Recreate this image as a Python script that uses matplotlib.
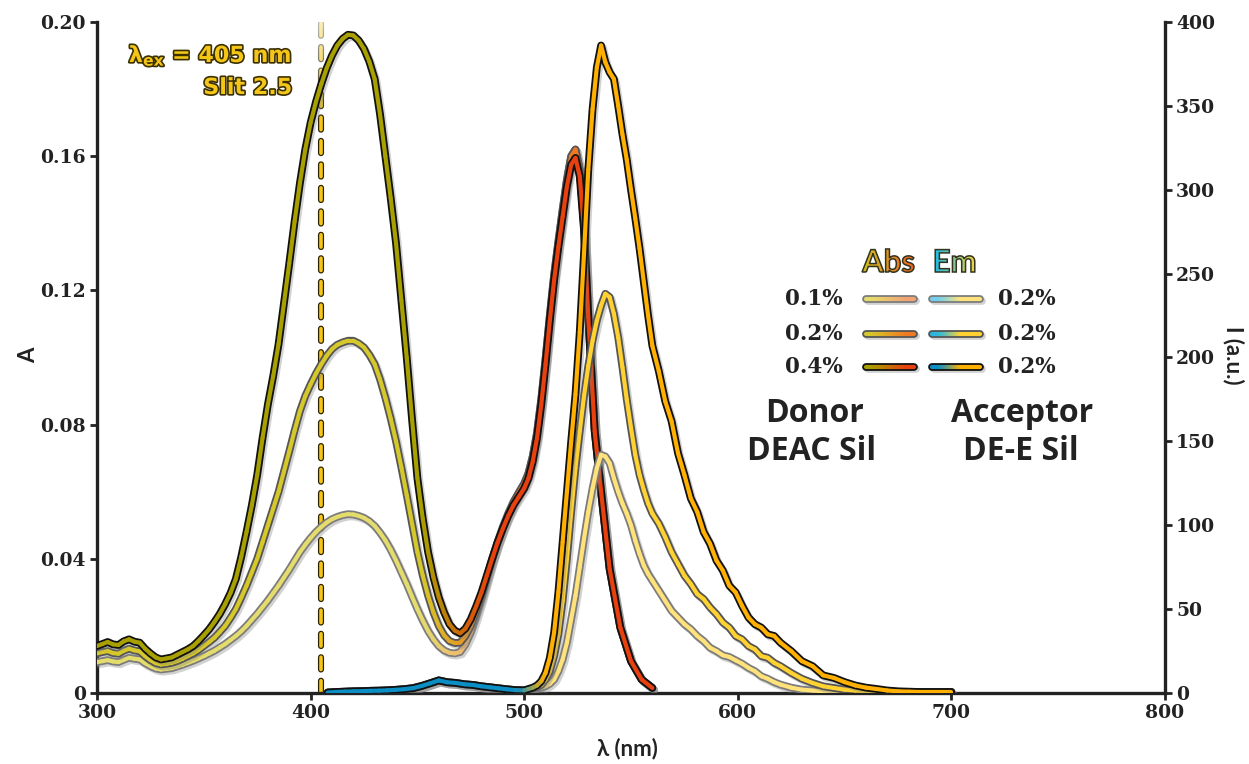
import numpy as np
import matplotlib
matplotlib.use("Agg")
import matplotlib.pyplot as plt
from matplotlib.collections import LineCollection
from matplotlib.colors import to_rgb
import matplotlib.patheffects as pe
from matplotlib.textpath import TextPath
from matplotlib.patches import PathPatch
from matplotlib.font_manager import FontProperties
from matplotlib.transforms import Affine2D

# ---------------------------------------------------------------- data
# absorbance spectra (left axis), donor loading 0.1 / 0.2 / 0.4 %
wl_abs = np.concatenate([np.arange(300, 500, 2.5), np.arange(500, 531, 2),
                         [533, 536, 540, 545, 550, 555, 560]])

abs_04 = [0.0140, 0.0146, 0.0152, 0.0145, 0.0143, 0.0154, 0.0160, 0.0153, 0.0150, 0.0132,
          0.0118, 0.0106, 0.0100, 0.0103, 0.0106, 0.0114, 0.0122, 0.0130, 0.0140, 0.0155,
          0.0172, 0.0190, 0.0212, 0.0236, 0.0265, 0.0298, 0.0340, 0.0405, 0.0480, 0.0560,
          0.0650, 0.0760, 0.0860, 0.0945, 0.1040, 0.1160, 0.1280, 0.1405, 0.1520, 0.1620,
          0.1700, 0.1762, 0.1815, 0.1862, 0.1900, 0.1930, 0.1950, 0.1962, 0.1960, 0.1945,
          0.1920, 0.1882, 0.1830, 0.1725, 0.1600, 0.1475, 0.1340, 0.1170, 0.1000, 0.0815,
          0.0640, 0.0520, 0.0420, 0.0345, 0.0285, 0.0240, 0.0205, 0.0186, 0.0178, 0.0192,
          0.0220, 0.0258, 0.0300, 0.0350, 0.0400, 0.0448, 0.0490, 0.0528, 0.0560, 0.0585,
          0.0610, 0.0640, 0.0690, 0.0760, 0.0860, 0.0980, 0.1110, 0.1230, 0.1330, 0.1420,
          0.1510, 0.1575, 0.1595, 0.1540, 0.1380, 0.1120,
          0.0780, 0.0600, 0.0370, 0.0195, 0.0095, 0.0040, 0.0015]

abs_02 = [0.0118, 0.0122, 0.0125, 0.0119, 0.0117, 0.0126, 0.0132, 0.0127, 0.0124, 0.0110,
          0.0098, 0.0089, 0.0085, 0.0087, 0.0090, 0.0095, 0.0102, 0.0110, 0.0118, 0.0128,
          0.0140, 0.0152, 0.0165, 0.0182, 0.0200, 0.0224, 0.0250, 0.0284, 0.0320, 0.0360,
          0.0400, 0.0450, 0.0500, 0.0550, 0.0600, 0.0660, 0.0720, 0.0782, 0.0840, 0.0885,
          0.0920, 0.0952, 0.0980, 0.1005, 0.1025, 0.1038, 0.1045, 0.1050, 0.1050, 0.1042,
          0.1030, 0.1008, 0.0980, 0.0935, 0.0880, 0.0818, 0.0750, 0.0672, 0.0590, 0.0505,
          0.0420, 0.0350, 0.0290, 0.0240, 0.0200, 0.0172, 0.0155, 0.0149, 0.0150, 0.0170,
          0.0200, 0.0242, 0.0290, 0.0345, 0.0400, 0.0450, 0.0495, 0.0535, 0.0570, 0.0598,
          0.0625, 0.0655, 0.0705, 0.0775, 0.0875, 0.0995, 0.1125, 0.1245, 0.1345, 0.1440,
          0.1530, 0.1600, 0.1620, 0.1560, 0.1395, 0.1130,
          0.0785, 0.0600, 0.0370, 0.0195, 0.0095, 0.0040, 0.0015]

abs_01 = [0.0092, 0.0095, 0.0098, 0.0094, 0.0092, 0.0099, 0.0105, 0.0102, 0.0100, 0.0089,
          0.0080, 0.0073, 0.0070, 0.0072, 0.0074, 0.0079, 0.0084, 0.0090, 0.0096, 0.0103,
          0.0110, 0.0118, 0.0126, 0.0136, 0.0146, 0.0158, 0.0170, 0.0184, 0.0200, 0.0218,
          0.0236, 0.0256, 0.0276, 0.0298, 0.0320, 0.0344, 0.0368, 0.0394, 0.0420, 0.0442,
          0.0462, 0.0480, 0.0495, 0.0508, 0.0518, 0.0525, 0.0530, 0.0533, 0.0532, 0.0528,
          0.0522, 0.0512, 0.0498, 0.0478, 0.0455, 0.0427, 0.0395, 0.0360, 0.0325, 0.0287,
          0.0250, 0.0216, 0.0185, 0.0160, 0.0140, 0.0127, 0.0120, 0.0118, 0.0122, 0.0145,
          0.0180, 0.0228, 0.0280, 0.0338, 0.0395, 0.0445, 0.0490, 0.0530, 0.0565, 0.0595,
          0.0620, 0.0655, 0.0705, 0.0775, 0.0875, 0.0995, 0.1125, 0.1245, 0.1345, 0.1440,
          0.1530, 0.1600, 0.1620, 0.1560, 0.1395, 0.1130,
          0.0785, 0.0600, 0.0370, 0.0195, 0.0095, 0.0040, 0.0015]

# emission spectra (right axis), excitation at 405 nm
wl_em = np.concatenate([np.arange(408, 500, 4), np.arange(500, 560, 2),
                        np.arange(560, 620, 3), np.arange(620, 701, 5)])

em_donor = [0.3, 0.6, 0.8, 1.0, 1.1, 1.3, 1.4, 1.6, 1.9, 2.3, 2.9, 4.2, 5.8, 7.5, 6.4,
            6.0, 5.2, 4.8, 4.0, 3.4, 2.8, 2.2, 1.7]

em_acc_04 = [1.6, 2.4, 3.2, 4.5, 7, 12, 21, 36, 60, 90, 120, 150, 178, 215, 262,
             312, 348, 373, 386, 376, 370, 366, 350, 333, 318, 300, 283, 265, 245, 225,
             207, 192, 174, 162, 143, 130, 116, 108, 96, 89, 79, 73, 64, 60, 52,
             45, 41, 39, 35, 34,
             30, 25, 19, 16, 10.5, 9, 6.5, 4.5, 3.2, 2.4, 1.5, 1.0, 0.8, 0.6, 0.6, 0.6, 0.6]

em_acc_02 = [1.5, 2.0, 2.6, 3.4, 4.8, 8, 13, 22, 35, 55, 80, 108, 134, 156, 177,
             195, 210, 222, 231, 238, 236, 226, 212, 194, 175, 158, 142, 130, 121, 113,
             107, 101, 93, 84, 77, 70, 65, 59, 56, 51, 47, 42, 39, 34, 32,
             28, 26, 22, 21, 18,
             16, 12, 8.5, 6, 4, 3, 2, 1.5, 1.2, 1.0, 0.8, 0.7, 0.6, 0.6, 0.6, 0.6, 0.6]

em_acc_01 = [1.5, 1.8, 2.2, 2.6, 3.2, 4, 5.5, 8, 13, 20, 30, 44, 58, 75, 92,
             108, 122, 134, 142, 141, 137, 128, 120, 113, 107, 100, 91, 83, 76, 71,
             67, 61, 55, 49, 45, 41, 38, 34, 31, 27, 25, 22.5, 21.5, 19.5, 17.5,
             15, 13, 10, 8.5, 6.5,
             5, 3.2, 2, 1.5, 1.0, 0.8, 0.7, 0.6, 0.6, 0.6, 0.6, 0.6, 0.6, 0.6, 0.6, 0.6, 0.6]

em_04 = em_donor + em_acc_04
em_02 = em_donor + em_acc_02
em_01 = em_donor + em_acc_01

EXC_NM = 405
donor_pct = ["0.1%", "0.2%", "0.4%"]
acceptor_pct = ["0.2%", "0.2%", "0.2%"]
x_ticks = [300, 400, 500, 600, 700, 800]
a_ticks = [0, 0.04, 0.08, 0.12, 0.16, 0.20]
a_labels = ["0", "0.04", "0.08", "0.12", "0.16", "0.20"]
i_ticks = [0, 50, 100, 150, 200, 250, 300, 350, 400]

# ---------------------------------------------------------------- style
ABS_STYLE = {  # (start colour, end colour, outline)
    "0.1": ("#e4dc6c", "#f3a274", "#7c7c7c"),
    "0.2": ("#d6c82a", "#f07a22", "#555555"),
    "0.4": ("#a89f00", "#e8400e", "#111111"),
}
EM_STYLE = {
    "0.1": ("#72d0ee", "#ffe27a", "#7c7c7c"),
    "0.2": ("#2bb7e0", "#ffd232", "#555555"),
    "0.4": ("#0a8ec4", "#ffb000", "#111111"),
}
DARK = "#222222"
GOLD = "#f5c518"

plt.rcParams["font.family"] = "DejaVu Serif"
plt.rcParams["font.weight"] = "bold"
SANS = ["Lato", "DejaVu Sans"]
HUMAN = ["Open Sans", "DejaVu Sans"]

W, H = 1249, 764
fig = plt.figure(figsize=(W / 100, H / 100), dpi=100)
ax = fig.add_axes([97 / W, (H - 693) / H, (1165 - 97) / W, (693 - 22) / H])
ax2 = ax.twinx()


def grad_line(axis, x, y, c0, c1, lo, hi, edge, lw=3.0, edge_lw=5.6, z=3):
    """Outlined line whose colour blends from c0 to c1 between x=lo and x=hi."""
    x = np.asarray(x, float)
    y = np.asarray(y, float)
    axis.plot(x, y, color=edge, lw=edge_lw, solid_capstyle="round",
              solid_joinstyle="round", zorder=z,
              path_effects=[pe.SimpleLineShadow(offset=(1.4, -1.6),
                                                shadow_color="#808080", alpha=0.35),
                            pe.Normal()])
    pts = np.column_stack([x, y]).reshape(-1, 1, 2)
    segs = np.concatenate([pts[:-1], pts[1:]], axis=1)
    xm = 0.5 * (x[:-1] + x[1:])
    t = np.clip((xm - lo) / (hi - lo), 0, 1)[:, None]
    cols = (1 - t) * np.array(to_rgb(c0)) + t * np.array(to_rgb(c1))
    lc = LineCollection(segs, colors=cols, linewidths=lw, capstyle="round",
                        joinstyle="round", zorder=z + 0.1)
    axis.add_collection(lc)


# excitation wavelength marker, fading out towards the top
ax.plot([EXC_NM, EXC_NM], [0, 0.2], color=GOLD, lw=2.6, linestyle=(0, (3.4, 3.1)),
        dash_capstyle="round", zorder=2,
        path_effects=[pe.Stroke(linewidth=4.4, foreground="#2a2200"), pe.Normal()])
fade = np.ones((64, 1, 4))
fade[:, 0, 3] = np.linspace(0.0, 0.75, 64) ** 1.2
ax.imshow(fade, extent=[EXC_NM - 2, EXC_NM + 2, 0.168, 0.2], origin="lower",
          aspect="auto", zorder=2.5, interpolation="bilinear")

# absorbance curves
for key, vals, z in [("0.1", abs_01, 3), ("0.2", abs_02, 3.5), ("0.4", abs_04, 4)]:
    c0, c1, edge = ABS_STYLE[key]
    grad_line(ax, wl_abs, vals, c0, c1, 452, 485, edge, z=z)

# emission curves
for key, vals, z in [("0.1", em_01, 3), ("0.2", em_02, 3.5), ("0.4", em_04, 4)]:
    c0, c1, edge = EM_STYLE[key]
    grad_line(ax2, wl_em, vals, c0, c1, 497, 510, edge, z=z)

# axes
ax.set_xlim(300, 800)
ax.set_ylim(0, 0.2)
ax2.set_ylim(0, 400)
ax.set_xticks(x_ticks)
ax.set_xticklabels([str(v) for v in x_ticks])
ax.set_yticks(a_ticks)
ax.set_yticklabels(a_labels)
ax2.set_yticks(i_ticks)
ax2.set_yticklabels([str(v) for v in i_ticks])

for a in (ax, ax2):
    a.spines["top"].set_visible(False)
    for s in a.spines.values():
        s.set_linewidth(2.4)
        s.set_color(DARK)
    a.tick_params(direction="out", length=5, width=2, colors=DARK, labelsize=13.5, pad=3)
ax.spines["right"].set_visible(False)
for s in ("left", "bottom"):
    ax2.spines[s].set_visible(False)

ax.set_xlabel("λ (nm)", fontsize=16, family=SANS, weight="bold", color=DARK,
              va="center", ha="center")
ax.xaxis.set_label_coords(0.497, -0.082)
ax.set_ylabel("A", fontsize=16, family=SANS, weight="bold", color=DARK,
              va="center", ha="center")
ax.yaxis.set_label_coords(-0.064, 0.504)
ax2.set_ylabel("I (a.u.)", fontsize=16, family=SANS, weight="bold", color=DARK,
               rotation=270, va="center", ha="center")
ax2.yaxis.set_label_coords(1.064, 0.504)

# ---------------------------------------------------------------- annotations
lg = fig.add_axes([0, 0, 1, 1], zorder=10)
lg.axis("off")
lg.set_xlim(0, W)
lg.set_ylim(0, H)


def Y(y):
    return H - y


outline_fx = [pe.withStroke(linewidth=2.4, foreground="#3a3000")]
lg.text(292, Y(62), "λ$_{\\mathbf{ex}}$ = 405 nm", ha="right", va="baseline", fontsize=16,
        family="DejaVu Sans", weight="bold", color=GOLD, path_effects=outline_fx)
lg.text(292, Y(94), "Slit 2.5", ha="right", va="baseline", fontsize=16,
        family="DejaVu Sans", weight="bold", color=GOLD, path_effects=outline_fx)


def gradient_text(axis, s, xc, ybase, size, c0, c1):
    fp = FontProperties(family=SANS, weight="bold")
    tp = TextPath((0, 0), s, size=size, prop=fp)
    ext = tp.get_extents()
    dx = xc - 0.5 * (ext.x0 + ext.x1)
    path = Affine2D().translate(dx, ybase).transform_path(tp)
    t = np.linspace(0, 1, 64)[None, :, None]
    img = (1 - t) * np.array(to_rgb(c0)) + t * np.array(to_rgb(c1))
    im = axis.imshow(img, extent=[ext.x0 + dx, ext.x1 + dx, ext.y0 + ybase, ext.y1 + ybase],
                     origin="lower", aspect="auto", zorder=5, interpolation="bilinear")
    clip = PathPatch(path, transform=axis.transData, facecolor="none", edgecolor="none")
    im.set_clip_path(clip)
    axis.add_patch(PathPatch(path, facecolor="none", edgecolor="#333320", lw=1.1, zorder=6))


gradient_text(lg, "Abs", 888, Y(272), 31, "#cfc21e", "#f2641e")
gradient_text(lg, "Em", 955, Y(272), 31, "#1fbde8", "#f4d43a")

rows_y = [299, 334, 367]
for i, key in enumerate(["0.1", "0.2", "0.4"]):
    yy = Y(rows_y[i])
    lg.text(843, yy, donor_pct[i], ha="right", va="center", fontsize=15.5, color=DARK)
    lg.text(998, yy, acceptor_pct[i], ha="left", va="center", fontsize=15.5, color=DARK)
    xs = np.linspace(866, 914, 24)
    c0, c1, edge = ABS_STYLE[key]
    grad_line(lg, xs, np.full_like(xs, yy), c0, c1, 872, 908, edge, z=7)
    xs = np.linspace(932, 980, 24)
    c0, c1, edge = EM_STYLE[key]
    grad_line(lg, xs, np.full_like(xs, yy), c0, c1, 940, 962, edge, z=7)

for xc, yc, s in [(815, 413, "Donor"), (812, 452, "DEAC Sil"),
                  (1022, 413, "Acceptor"), (1021, 452, "DE-E Sil")]:
    lg.text(xc, Y(yc), s, ha="center", va="center", fontsize=23, family=HUMAN,
            weight="bold", color=DARK)
lg.set_xlim(0, W)
lg.set_ylim(0, H)

fig.savefig("out.png", dpi=100)
